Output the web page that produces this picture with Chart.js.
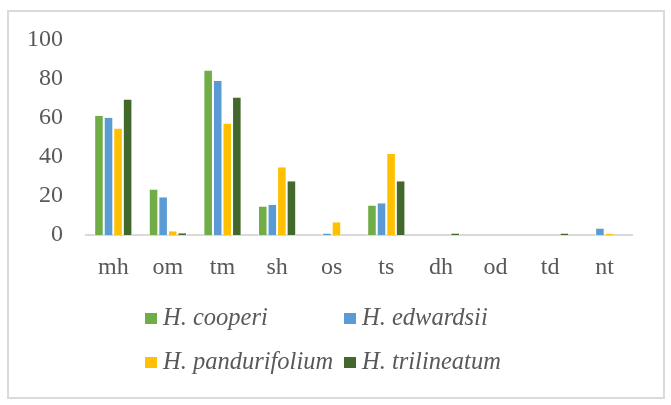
<!DOCTYPE html>
<html>
<head>
<meta charset="utf-8">
<script src="https://cdn.jsdelivr.net/npm/chart.js@4.4.1/dist/chart.umd.min.js"></script>
<style>
  html, body { margin: 0; padding: 0; background: #ffffff; }
  #wrap { position: relative; width: 671px; height: 405px; overflow: hidden; }
  #frame { position: absolute; left: 7px; top: 10px; width: 654px; height: 385px; border: 2px solid #dadada; box-sizing: content-box; }
  canvas { position: absolute; left: 0; top: 0; }
  #legend { position: absolute; left: 145px; top: 302px; display: grid; grid-template-columns: 199px auto; row-gap: 14px;
            font-family: "Liberation Serif", "Times New Roman", serif; font-style: italic; font-size: 24.5px; color: #595959; }
  .item { display: flex; align-items: center; height: 30px; white-space: nowrap; }
  .box { width: 12px; height: 11px; margin-right: 6px; margin-top: 2px; flex: none; }
</style>
</head>
<body>
<div id="wrap">
  <div id="frame"></div>
  <canvas id="c" width="671" height="405"></canvas>
  <div id="legend"></div>
</div>
<script>
const categories = ["mh", "om", "tm", "sh", "os", "ts", "dh", "od", "td", "nt"];
const seriesNames = ["H. cooperi", "H. edwardsii", "H. pandurifolium", "H. trilineatum"];
const cooperi      = [61.1, 23.3, 84.3, 14.6, 0.0, 15.1, 0.0, 0.0, 0.0, 0.0];
const edwardsii    = [60.1, 19.3, 79.0, 15.5, 0.8, 16.3, 0.0, 0.0, 0.0, 3.3];
const pandurifolium= [54.6, 1.9, 57.2, 34.8, 6.6, 41.6, 0.0, 0.0, 0.0, 0.6];
const trilineatum  = [69.5, 0.9, 70.5, 27.6, 0.0, 27.6, 0.8, 0.0, 0.8, 0.0];
const yTicks = [0, 20, 40, 60, 80, 100];

const colors = ["#70ad47", "#5b9bd5", "#ffc000", "#43682b"];
const seriesData = [cooperi, edwardsii, pandurifolium, trilineatum];

const datasets = seriesNames.map((n, i) => ({
  label: n,
  data: seriesData[i],
  backgroundColor: colors[i],
  borderColor: "#ffffff",
  borderWidth: { top: 0, left: 1, right: 1, bottom: 0 },
  barPercentage: 1.0,
  categoryPercentage: 0.7
}));

const font = { family: "'Liberation Serif', 'Times New Roman', serif" };

new Chart(document.getElementById("c"), {
  type: "bar",
  data: { labels: categories, datasets },
  options: {
    responsive: false,
    animation: false,
    events: [],
    layout: { padding: { left: 0, top: 40, right: 39, bottom: 0 } },
    plugins: { legend: { display: false }, tooltip: { enabled: false } },
    scales: {
      x: {
        grid: { display: false, drawTicks: false },
        border: { display: true, color: "#d9d9d9", width: 2 },
        ticks: { color: "#595959", font: { ...font, size: 24 }, padding: 18, maxRotation: 0 },
        afterFit: s => { s.height = 170; }
      },
      y: {
        min: 0, max: 100,
        grid: { display: false, drawTicks: false },
        border: { display: false },
        afterBuildTicks: s => { s.ticks = yTicks.map(v => ({ value: v })); },
        ticks: { color: "#595959", font: { ...font, size: 24 }, padding: 23 },
        afterFit: s => { s.width = 86; }
      }
    }
  }
});

const leg = document.getElementById("legend");
seriesNames.forEach((n, i) => {
  const it = document.createElement("div");
  it.className = "item";
  const b = document.createElement("span");
  b.className = "box";
  b.style.background = colors[i];
  const t = document.createElement("span");
  t.textContent = n;
  it.appendChild(b); it.appendChild(t);
  leg.appendChild(it);
});
</script>
</body>
</html>
